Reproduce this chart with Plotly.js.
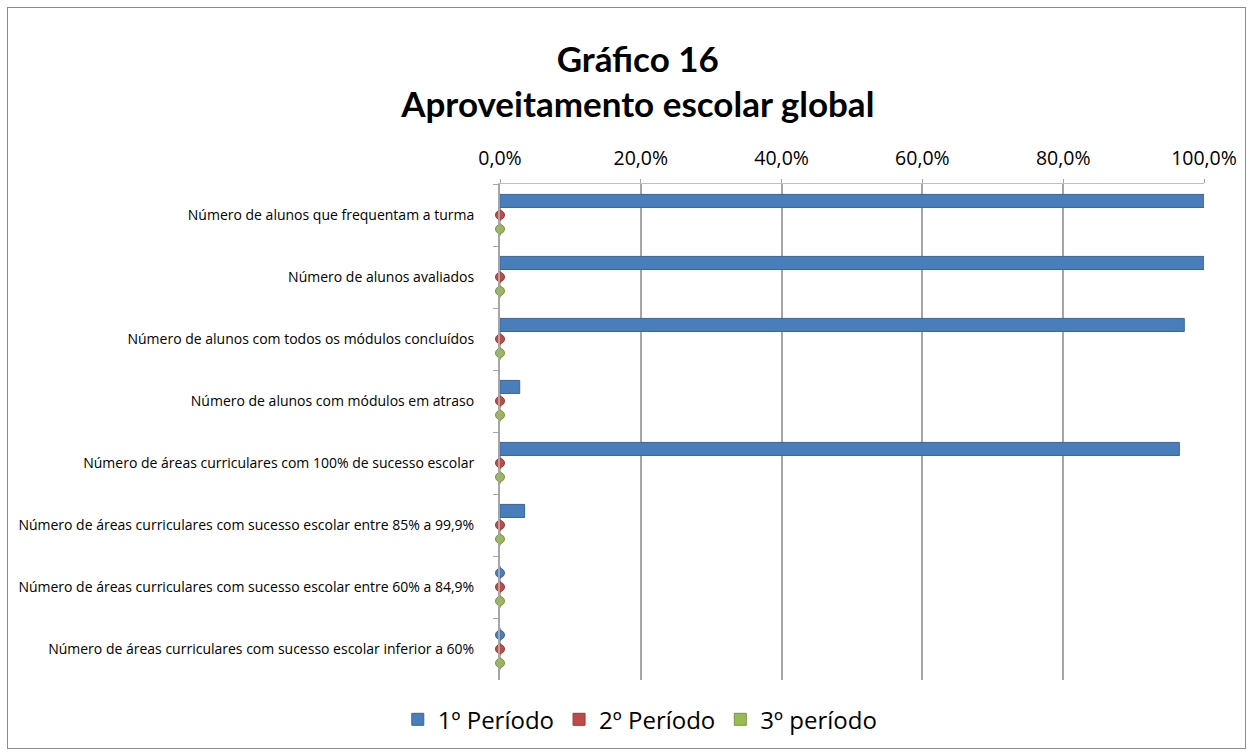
<!DOCTYPE html>
<html><head><meta charset="utf-8">
<script src="https://cdn.plot.ly/plotly-3.0.1.min.js"></script>
<style>
html,body{margin:0;padding:0;background:#fff;}
#chart{width:1253px;height:756px;}
#frame{position:absolute;left:7px;top:7px;width:1237px;height:740px;border:1px solid #8c8c8c;pointer-events:none;}
</style></head>
<body>
<div id="chart"></div>
<div id="frame"></div>
<script>
const categories = [
  "Número de alunos que frequentam a turma",
  "Número de alunos avaliados",
  "Número de alunos com todos os módulos concluídos",
  "Número de alunos com módulos em atraso",
  "Número de áreas curriculares com 100% de sucesso escolar",
  "Número de áreas curriculares com sucesso escolar entre 85% a 99,9%",
  "Número de áreas curriculares com sucesso escolar entre 60% a 84,9%",
  "Número de áreas curriculares com sucesso escolar inferior a 60%"
];
const seriesNames = ["1º Período", "2º Período", "3º período"];
const periodo1 = [1.00, 1.00, 0.972, 0.028, 0.965, 0.035, 0, 0];
const periodo2 = [0, 0, 0, 0, 0, 0, 0, 0];
const periodo3 = [0, 0, 0, 0, 0, 0, 0, 0];
const tickVals = [0, 0.2, 0.4, 0.6, 0.8, 1.0];
const tickText = ["0,0%", "20,0%", "40,0%", "60,0%", "80,0%", "100,0%"];

const colors = ["#4a7ebb", "#be4b48", "#98b954"];
const lineColors = ["#3a659a", "#99393a", "#7a9640"];
const allSeries = [periodo1, periodo2, periodo3];

const traces = [];
allSeries.forEach((vals, i) => {
  traces.push({
    type: "bar", orientation: "h", name: seriesNames[i],
    x: vals, y: categories,
    marker: {color: colors[i], line: {color: lineColors[i], width: 1}},
    hoverinfo: "x+y"
  });
});
allSeries.forEach((vals, i) => {
  traces.push({
    type: "scatter", mode: "markers", orientation: "h", showlegend: false,
    x: vals, y: categories, cliponaxis: false,
    marker: {color: colors[i], opacity: 1, size: vals.map(v => v === 0 ? 9 : 0),
             line: {color: lineColors[i], width: 1}},
    hoverinfo: "skip"
  });
});

const font = "Lato, 'Open Sans', sans-serif";
const sans = "'Open Sans', sans-serif";
const layout = {
  width: 1253, height: 756,
  paper_bgcolor: "#fff", plot_bgcolor: "#fff",
  margin: {l: 500, r: 49, t: 184, b: 76},
  barmode: "group", bargap: 0.32, bargroupgap: 0.07,
  scattermode: "group", scattergap: 0.32,
  title: {
    text: "<b>Gráfico 16<br>Aproveitamento escolar global</b>",
    font: {family: font, size: 35, color: "#000"},
    xref: "container", x: 0.509, xanchor: "center",
    yref: "container", y: 0.905, yanchor: "middle"
  },
  xaxis: {
    side: "top", range: [0, 1.0], tickvals: tickVals, ticktext: tickText,
    showgrid: true, gridcolor: "#a6a6a6", gridwidth: 2, zeroline: false,
    showline: true, linecolor: "#bfbfbf", linewidth: 1,
    ticks: "outside", ticklen: 4, tickcolor: "#a6a6a6",
    tickfont: {family: sans, size: 19.5, color: "#000"},
    ticklabelstandoff: 6, fixedrange: true
  },
  yaxis: {
    type: "category", autorange: "reversed",
    tickfont: {family: sans, size: 14, color: "#000"},
    showline: true, linecolor: "#a6a6a6", linewidth: 2,
    ticks: "outside", tickson: "boundaries", ticklen: 5, tickcolor: "#a6a6a6",
    ticklabelstandoff: 21, showgrid: false, fixedrange: true
  },
  showlegend: true,
  legend: {
    orientation: "h", xref: "container", yref: "container",
    x: 0.511, xanchor: "center", y: 0.048, yanchor: "middle",
    font: {family: sans, size: 24, color: "#000"},
    traceorder: "normal"
  }
};
Plotly.newPlot("chart", traces, layout, {displayModeBar: false, staticPlot: true});
</script>
</body></html>
